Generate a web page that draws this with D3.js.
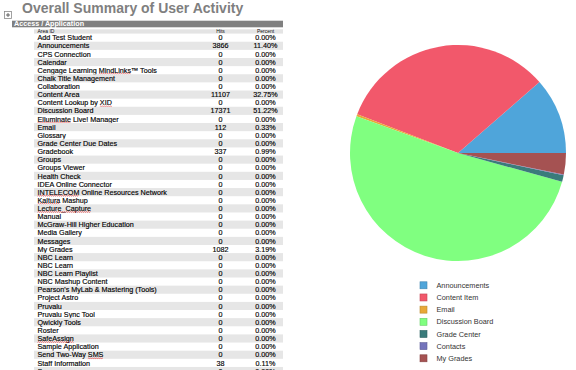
<!DOCTYPE html>
<html>
<head>
<meta charset="utf-8">
<script src="https://cdn.jsdelivr.net/npm/d3@7"></script>
<style>
  html, body { margin: 0; padding: 0; background: #fff; }
  svg { display: block; }
  text { font-family: "Liberation Sans", Arial, Helvetica, sans-serif; }
</style>
</head>
<body>
<svg id="chart" width="576" height="370"></svg>
<script>
// ---------- data ----------
const areaNames = [
  "Add Test Student", "Announcements", "CPS Connection", "Calendar",
  "Cengage Learning MindLinks\u2122 Tools", "Chalk Title Management", "Collaboration",
  "Content Area", "Content Lookup by XID", "Discussion Board", "Elluminate Live! Manager",
  "Email", "Glossary", "Grade Center Due Dates", "Gradebook", "Groups", "Groups Viewer",
  "Health Check", "IDEA Online Connector", "INTELECOM Online Resources Network",
  "Kaltura Mashup", "Lecture_Capture", "Manual", "McGraw-Hill Higher Education",
  "Media Gallery", "Messages", "My Grades", "NBC Learn", "NBC Learn", "NBC Learn Playlist",
  "NBC Mashup Content", "Pearson's MyLab & Mastering (Tools)", "Project Astro", "Pruvalu",
  "Pruvalu Sync Tool", "Qwickly Tools", "Roster", "SafeAssign", "Sample Application",
  "Send Two-Way SMS", "Staff Information", "Survey"
];
const areaHits = [
  0, 3866, 0, 0, 0, 0, 0, 11107, 0, 17371, 0, 112, 0, 0, 337, 0, 0, 0, 0, 0,
  0, 0, 0, 0, 0, 0, 1082, 0, 0, 0, 0, 0, 0, 0, 0, 0, 0, 0, 0, 0, 38, 0
];
const areaPercents = [
  "0.00%", "11.40%", "0.00%", "0.00%", "0.00%", "0.00%", "0.00%", "32.75%", "0.00%",
  "51.22%", "0.00%", "0.33%", "0.00%", "0.00%", "0.99%", "0.00%", "0.00%", "0.00%",
  "0.00%", "0.00%", "0.00%", "0.00%", "0.00%", "0.00%", "0.00%", "0.00%", "3.19%",
  "0.00%", "0.00%", "0.00%", "0.00%", "0.00%", "0.00%", "0.00%", "0.00%", "0.00%",
  "0.00%", "0.00%", "0.00%", "0.00%", "0.11%", "0.00%"
];
const flaggedWords = ["MindLinks", "XID", "Elluminate", "INTELECOM", "Kaltura",
  "Lecture_Capture", "SafeAssign", "SMS"];

const pieLabels = ["Announcements", "Content Item", "Email", "Discussion Board",
  "Grade Center", "Contacts", "My Grades"];
const pieValues = [3866, 11107, 112, 17371, 337, 38, 1082];
const pieColors = ["#4fa5da", "#f2586b", "#e8a838", "#80ff80", "#3a7b7b", "#7474bb", "#a55252"];

// ---------- drawing ----------
const svg = d3.select("#chart");

// title
svg.append("text")
  .attr("x", 22).attr("y", 13)
  .attr("font-size", 14).attr("font-weight", "bold")
  .attr("fill", "#7f7f7f")
  .text("Overall Summary of User Activity");

// expand icon
const icon = svg.append("g").attr("transform", "translate(4.5,11.5)");
icon.append("rect").attr("width", 7).attr("height", 7)
  .attr("fill", "#fff").attr("stroke", "#8a8a8a").attr("stroke-width", 0.8);
icon.append("path").attr("d", "M3.5,1.5V5.5M1.5,3.5H5.5")
  .attr("stroke", "#444").attr("stroke-width", 0.8);

// section bar
svg.append("rect").attr("x", 12).attr("y", 20.7).attr("width", 271).attr("height", 6.6)
  .attr("fill", "#808080");
svg.append("text").attr("x", 14).attr("y", 26.4)
  .attr("font-size", 7.2).attr("font-weight", "bold").attr("fill", "#fff")
  .text("Access / Application");

// column header
const colName = 37.5, colHits = 220.5, colPct = 265.5;
svg.append("rect").attr("x", 34).attr("y", 29.3).attr("width", 249).attr("height", 4.3)
  .attr("fill", "#e4e4e4");
const hdr = svg.append("g").attr("font-size", 5).attr("fill", "#111");
hdr.append("text").attr("x", colName).attr("y", 33.2).text("Area ID");
hdr.append("text").attr("x", colHits).attr("y", 33.2).attr("text-anchor", "middle").text("Hits");
hdr.append("text").attr("x", colPct).attr("y", 33.2).attr("text-anchor", "middle").text("Percent");

// rows
const rowH = 8.13;
const yRow = d3.scaleBand()
  .domain(d3.range(areaNames.length))
  .range([33.6, 33.6 + rowH * areaNames.length])
  .padding(0);

const rows = svg.append("g").selectAll("g.row")
  .data(areaNames.map((n, i) => ({ name: n, hits: areaHits[i], pct: areaPercents[i], i })))
  .join("g")
  .attr("class", "row")
  .attr("transform", d => `translate(0,${yRow(d.i)})`);

rows.filter(d => d.i % 2 === 1).append("rect")
  .attr("x", 34).attr("y", 0).attr("width", 249).attr("height", yRow.bandwidth())
  .attr("fill", "#e6e6e6");

const base = 6.7;
function rowText(sel) {
  return sel.attr("y", base).attr("font-size", 7.2).attr("fill", "#000")
    .attr("stroke", "#000").attr("stroke-width", 0.15);
}
const nameText = rowText(rows.append("text").attr("x", colName))
  .text(d => d.name);
rowText(rows.append("text").attr("x", colHits).attr("text-anchor", "middle"))
  .text(d => d.hits);
rowText(rows.append("text").attr("x", colPct).attr("text-anchor", "middle"))
  .text(d => d.pct);

// spell-check squiggles
nameText.each(function(d) {
  const node = this;
  flaggedWords.forEach(w => {
    const idx = d.name.indexOf(w);
    if (idx < 0) return;
    let x0, wdt;
    try {
      x0 = colName + (idx > 0 ? node.getSubStringLength(0, idx) : 0);
      wdt = node.getSubStringLength(idx, w.length);
    } catch (e) { return; }
    const p = d3.path();
    const yb = base + 1.3;
    p.moveTo(x0, yb);
    let up = true;
    for (let x = x0 + 1; x <= x0 + wdt; x += 1) {
      p.lineTo(x, up ? yb - 0.7 : yb);
      up = !up;
    }
    d3.select(node.parentNode).append("path")
      .attr("d", p.toString())
      .attr("fill", "none").attr("stroke", "#e02020").attr("stroke-width", 0.6);
  });
});

// pie
const cx = 458, cy = 153, R = 108;
const pie = d3.pie().sort(null)
  .startAngle(Math.PI / 2).endAngle(Math.PI / 2 - 2 * Math.PI)
  .value(d => d);
const arc = d3.arc().innerRadius(0).outerRadius(R);
const color = d3.scaleOrdinal().domain(pieLabels).range(pieColors);

svg.append("g").attr("transform", `translate(${cx},${cy})`)
  .selectAll("path")
  .data(pie(pieValues))
  .join("path")
  .attr("d", arc)
  .attr("fill", (d, i) => color(pieLabels[i]));

// legend
const yLeg = d3.scalePoint().domain(pieLabels).range([285.3, 358.3]);
const leg = svg.append("g").selectAll("g")
  .data(pieLabels).join("g")
  .attr("transform", d => `translate(420,${yLeg(d)})`);
leg.append("rect")
  .attr("x", 0).attr("y", -3.5).attr("width", 7).attr("height", 7)
  .attr("fill", d => color(d))
  .attr("stroke", d => d3.color(color(d)).darker(0.6))
  .attr("stroke-width", 0.6);
leg.append("text")
  .attr("x", 16.5).attr("y", 2.6)
  .attr("font-size", 7.3).attr("fill", "#333")
  .text(d => d);
</script>
</body>
</html>
